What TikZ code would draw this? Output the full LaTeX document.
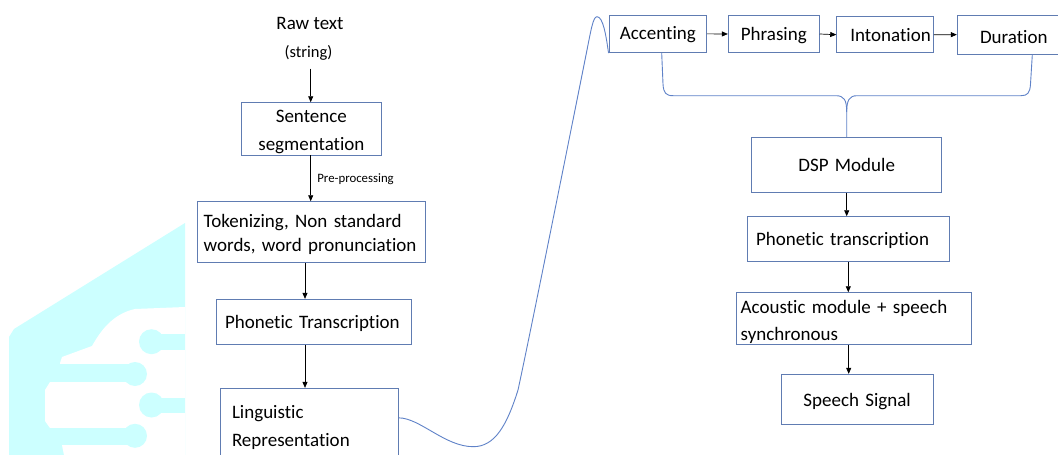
\documentclass[tikz,border=0pt]{standalone}
\usepackage{fontspec}
\setmainfont{Carlito}[Ligatures=NoCommon]
\usetikzlibrary{arrows.meta}
\definecolor{boxc}{RGB}{96,124,178}
\definecolor{curvec}{RGB}{95,130,200}
\definecolor{wm}{RGB}{204,255,255}
\tikzset{
  bx/.style n args={6}{draw=boxc, line width=0.9pt, inner ysep=0pt, inner xsep=#1,
    text width=#2, text height=#3, text depth=#4, align=#5,
    font=\fontsize{19}{#6}\selectfont},
  plain/.style={anchor=base, inner sep=0pt},
  arr/.style={draw=black, line width=0.7pt, -{Triangle[length=6pt,width=5pt]}},
  link/.style={draw=curvec, line width=0.9pt},
}
\begin{document}
\begin{tikzpicture}[x=1pt,y=-1pt]
\useasboundingbox (0,0) rectangle (1058,455);
\clip (0,0) rectangle (1058,455);
\fill[white] (0,0) rectangle (1058,455);
% watermark
\fill[wm] (9,455) -- (9,337) -- (14,329) -- (185,223) -- (185,455) -- cycle;
\fill[white] (185,307) -- (135,309) .. controls (112,314) and (100,332) .. (92,346) -- (62,357) -- (60,363) -- (60,382) -- (50,382) -- (45,390) -- (45,421) -- (50,428) -- (62,428) -- (62,445) -- (64,455) -- (185,455) -- cycle;
\fill[wm] (151,334) rectangle (185,349.5);
\fill[wm] (151.5,341.7) circle[radius=12.5];
\fill[wm] (60,364) rectangle (135,382);
\fill[wm] (135,374) circle[radius=12];
\fill[wm] (151,398) rectangle (185,413);
\fill[wm] (151.5,405) circle[radius=12.5];
\fill[wm] (45,428.3) rectangle (135,445);
\fill[wm] (135,435.8) circle[radius=12];

% helper coordinates
\coordinate (ax1) at (310.7,0);
\coordinate (ax2) at (305,0);
\coordinate (ax3) at (848.7,0);
\coordinate (bl) at (661.7,0);
\coordinate (br) at (1032.3,0);

% left column
\node[plain, font=\fontsize{19}{24}\selectfont] (raw) at (310,29.3) {Raw text};
\node[plain, font=\fontsize{16.5}{20}\selectfont] (rawsub) at (308.5,57.5) {(string)};
\node[bx={4pt}{131.3pt}{19.8pt}{32.5pt}{center}{27.5pt}] (sent) at (311.35,128.85) {Sentence\\segmentation};
\node[bx={6pt}{215.3pt}{25.6pt}{35.4pt}{left}{24.4pt}] (tok) at (311.35,232.2) {Tokenizing, Non standard\\words, word pronunciation};
\node[bx={8.3pt}{178.4pt}{29pt}{16pt}{left}{24pt}] (phon) at (314.2,321.8) {Phonetic Transcription};
\node[bx={11.3pt}{155pt}{30pt}{51.7pt}{left}{27.7pt}] (ling) at (309.5,429.15) {Linguistic\\Representation};

% right part
\node[bx={2pt}{93.7pt}{24.3pt}{13.4pt}{center}{24pt}] (acc) at (657.85,33.85) {Accenting};
\node[bx={2pt}{87pt}{24.3pt}{12.3pt}{center}{24pt}] (phr) at (773.8,34) {Phrasing};
\node[bx={2.5pt}{91.6pt}{25pt}{11pt}{right}{24pt}] (int) at (885,34.7) {Intonation};
\node[bx={2pt}{109pt}{28.3pt}{11pt}{center}{24pt}] (dur) at (1013.8,34.65) {Duration};
\node[bx={2pt}{186pt}{34.4pt}{20.6pt}{center}{24pt}] (dsp) at (846.7,164.8) {DSP Module};
\node[bx={8.7pt}{184.6pt}{28.8pt}{16.2pt}{left}{24pt}] (pht) at (848.3,239.2) {Phonetic transcription};
\node[bx={4pt}{227pt}{20.6pt}{31pt}{left}{26.7pt}] (aco) at (854.2,318.5) {Acoustic module + speech\\synchronous};
\node[bx={2pt}{148.3pt}{31.7pt}{18pt}{center}{24pt}] (ss) at (857.15,399.15) {Speech Signal};

% arrows
\draw[arr] (rawsub.south -| ax1) ++(0,8) -- (sent.north -| ax1);
\draw[arr] (sent.south -| ax1) -- node[anchor=base west, inner sep=0pt, xshift=6.3pt, yshift=-4pt, font=\fontsize{12.8}{15}\selectfont] (pre) {Pre-processing} (tok.north -| ax1);
\draw[arr] (tok.south -| ax2) -- (phon.north -| ax2);
\draw[arr] (phon.south -| ax2) -- (ling.north -| ax2);
\draw[arr] (acc.east) -- (phr.west);
\draw[arr] (phr.east) -- (int.west);
\draw[arr] (int.east) -- (dur.west);
\draw[arr] (dsp.south) -- (dsp.south |- pht.north);
\draw[arr] (pht.south) -- (pht.south |- aco.north);
\draw[arr] (aco.south -| ax3) -- (ss.north -| ax3);

% brace joining the prosody boxes to the DSP module
\draw[link] (acc.south -| bl) -- (663,84) .. controls (663.5,93) and (666,95.7) .. (673,95.7) -- (836,95.7) .. controls (844,95.7) and (846.7,100) .. (846.7,112) -- (dsp.north);
\draw[link] (dur.south -| br) -- (1030.5,84) .. controls (1030,93) and (1027.5,95.7) .. (1021,95.7) -- (857,95.7) .. controls (849.5,95.7) and (846.7,100) .. (846.7,112);

% long curved connector
\draw[link] (ling.north east) ++(0,30) .. controls (420,418) and (445,446.7) .. (473.3,446.7) .. controls (495,446.7) and (507,425) .. (518,390) .. controls (530,335) and (575,110) .. (586,55) .. controls (591,30) and (593,16.7) .. (597,16.7) .. controls (603,16.7) and (606,35) .. (acc.south west);
\end{tikzpicture}
\end{document}
